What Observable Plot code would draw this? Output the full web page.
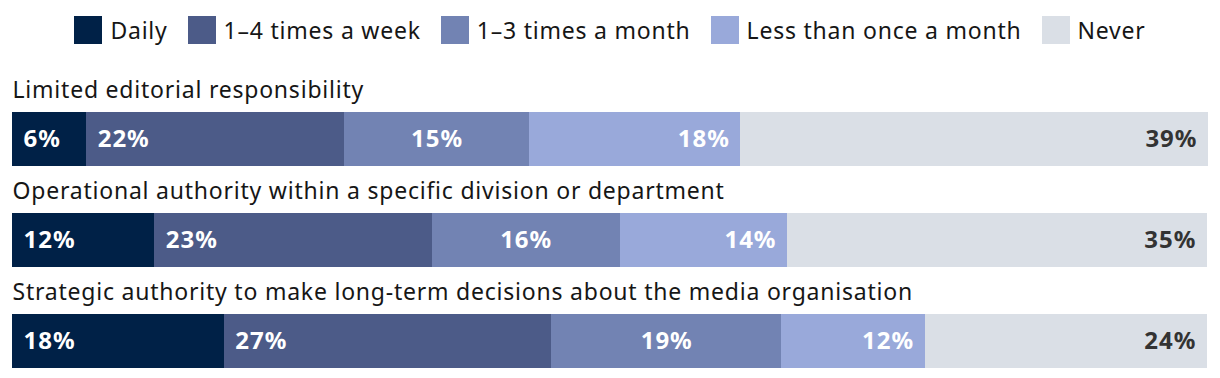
<!DOCTYPE html>
<html>
<head>
<meta charset="utf-8">
<script src="https://cdn.jsdelivr.net/npm/d3@7"></script>
<script src="https://cdn.jsdelivr.net/npm/@observablehq/plot@0.6"></script>
<style>
  html, body { margin: 0; padding: 0; background: #fff; }
  body { width: 1220px; height: 378px; overflow: hidden; font-family: "Noto Sans", sans-serif; color: #161616; }
  #legend { height: 60px; display: flex; justify-content: center; align-items: center; font-size: 23px; letter-spacing: 0.78px; }
  .item { display: flex; align-items: center; margin: 0 10px; }
  .sw { width: 28px; height: 28px; margin-right: 8px; }
  svg { display: block; }
  svg text { letter-spacing: 0.78px; }
  svg g[font-weight="bold"] text { letter-spacing: 1px; }
</style>
</head>
<body>
<div id="legend"></div>
<div id="chart"></div>
<script>
const rows = [
  "Limited editorial responsibility",
  "Operational authority within a specific division or department",
  "Strategic authority to make long-term decisions about the media organisation"
];
const categories = ["Daily", "1–4 times a week", "1–3 times a month", "Less than once a month", "Never"];
const colors = ["#002147", "#4c5b88", "#7283b3", "#99a9da", "#dadfe6"];
const daily   = [6.2, 11.9, 17.7];
const weekly  = [21.6, 23.2, 27.4];
const monthly = [15.4, 15.7, 19.2];
const less    = [17.7, 14.0, 12.0];
const never   = [39.1, 35.1, 23.6];

const series = [daily, weekly, monthly, less, never];
const data = [];
rows.forEach((row, r) => {
  let acc = 0;
  series.forEach((vals, c) => {
    const v = vals[r];
    data.push({row, cat: categories[c], ci: c, value: v, x1: acc, x2: acc + v, xm: acc + v / 2});
    acc += v;
  });
});

// legend
const legend = d3.select("#legend");
categories.forEach((c, i) => {
  const it = legend.append("div").attr("class", "item");
  it.append("div").attr("class", "sw").style("background", colors[i]);
  it.append("span").text(c);
});

const bw = 53.7;
const fmt = d => Math.round(d.value) + "%";
const chart = Plot.plot({
  width: 1220,
  height: 318,
  marginLeft: 12,
  marginRight: 12,
  marginTop: 0,
  marginBottom: 0,
  style: {fontFamily: "Noto Sans, sans-serif", background: "transparent"},
  x: {domain: [0, 100], axis: null},
  y: {domain: rows, range: [51.7, 308], paddingInner: 0.47, paddingOuter: 0, axis: null},
  color: {domain: categories, range: colors},
  marks: [
    Plot.barX(data, {x1: "x1", x2: "x2", y: "row", fill: "cat", shapeRendering: "crispEdges"}),
    Plot.text(data.filter(d => d.ci <= 1), {x: "x1", y: "row", text: fmt, textAnchor: "start", dx: 11, fill: "white", fontWeight: "bold", fontSize: 24}),
    Plot.text(data.filter(d => d.ci === 2), {x: "xm", y: "row", text: fmt, textAnchor: "middle", fill: "white", fontWeight: "bold", fontSize: 24}),
    Plot.text(data.filter(d => d.ci === 3), {x: "x2", y: "row", text: fmt, textAnchor: "end", dx: -11, fill: "white", fontWeight: "bold", fontSize: 24}),
    Plot.text(data.filter(d => d.ci === 4), {x: "x2", y: "row", text: fmt, textAnchor: "end", dx: -11, fill: "#333333", fontWeight: "bold", fontSize: 24}),
    Plot.text(rows, {x: 0, y: d => d, text: d => d, textAnchor: "start", lineAnchor: "bottom", dy: -(bw / 2 + 15), fill: "#161616", fontSize: 23})
  ]
});
document.getElementById("chart").append(chart);
</script>
</body>
</html>
